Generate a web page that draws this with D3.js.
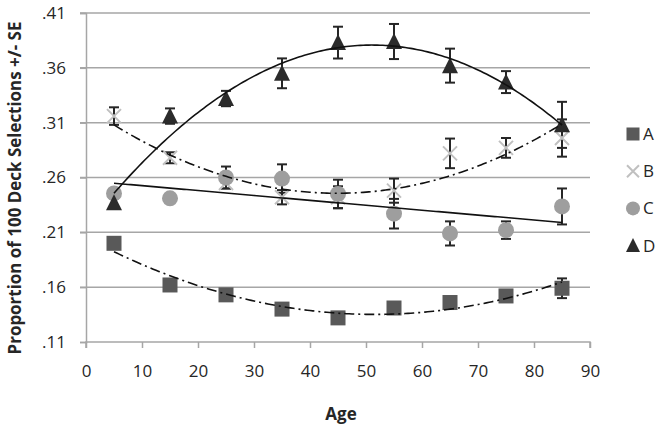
<!DOCTYPE html>
<html>
<head>
<meta charset="utf-8">
<script src="https://cdn.jsdelivr.net/npm/d3@7"></script>
<style>
  html, body { margin: 0; padding: 0; background: #fff; }
  svg { display: block; font-family: "Open Sans", "Liberation Sans", sans-serif; }
</style>
</head>
<body>
<svg id="chart" width="661" height="430"></svg>
<script>
// ---------------- data ----------------
const ages = [5, 15, 25, 35, 45, 55, 65, 75, 85];
const seriesNames = ["A", "B", "C", "D"];
const valuesA = [0.200, 0.162, 0.153, 0.140, 0.132, 0.141, 0.146, 0.152, 0.159];
const errA    = [0.004, 0.004, 0.004, 0.004, 0.004, 0.004, 0.004, 0.004, 0.009];
const valuesB = [0.316, 0.278, 0.255, 0.242, 0.242, 0.248, 0.282, 0.287, 0.296];
const errB    = [0.008, 0.005, 0.005, 0.0065, 0.010, 0.011, 0.0135, 0.009, 0.017];
const valuesC = [0.2455, 0.241, 0.260, 0.259, 0.245, 0.227, 0.209, 0.212, 0.2336];
const errC    = [0.004, 0.004, 0.010, 0.013, 0.013, 0.0135, 0.011, 0.008, 0.0164];
const valuesD = [0.237, 0.316, 0.332, 0.355, 0.383, 0.384, 0.362, 0.347, 0.308];
const errD    = [0.004, 0.007, 0.007, 0.0136, 0.0145, 0.016, 0.0155, 0.010, 0.021];
const trendDegree = [2, 2, 1, 2];
const xTicks = [0, 10, 20, 30, 40, 50, 60, 70, 80, 90];
const yTicks = [0.11, 0.16, 0.21, 0.26, 0.31, 0.36, 0.41];
const yTickLabels = [".11", ".16", ".21", ".26", ".31", ".36", ".41"];
const xTitle = "Age";
const yTitle = "Proportion of 100 Deck Selections +/- SE";

// ---------------- layout ----------------
const svg = d3.select("#chart");
const x = d3.scaleLinear().domain([0, 90]).range([86, 590]);
const y = d3.scaleLinear().domain([0.11, 0.41]).range([342, 13]);
const gridColor = "#a6a6a6";
const textColor = "#262626";

const series = [
  { name: "A", vals: valuesA, err: errA, shape: "square",   fill: "#595959" },
  { name: "B", vals: valuesB, err: errB, shape: "x",        fill: "#c0c0c0" },
  { name: "C", vals: valuesC, err: errC, shape: "circle",   fill: "#9e9e9e" },
  { name: "D", vals: valuesD, err: errD, shape: "triangle", fill: "#2b2b2b" }
];

// gridlines
svg.append("g").selectAll("line").data(yTicks.slice(1)).join("line")
  .attr("x1", 80).attr("x2", 590)
  .attr("y1", d => y(d)).attr("y2", d => y(d))
  .attr("stroke", gridColor).attr("stroke-width", 1.5);

// y axis
const yAxis = d3.axisLeft(y).tickValues(yTicks)
  .tickFormat((d, i) => yTickLabels[i]).tickSize(6).tickPadding(14);
const gy = svg.append("g").attr("transform", "translate(86,0)").call(yAxis);
gy.select(".domain").attr("stroke", gridColor).attr("stroke-width", 1.5);
gy.selectAll(".tick line").attr("stroke", gridColor).attr("stroke-width", 1.5);
gy.selectAll(".tick text").attr("fill", textColor).attr("font-size", 17)
  .attr("font-family", "'Open Sans', sans-serif");

// x axis
const xAxis = d3.axisBottom(x).tickValues(xTicks).tickSize(6).tickPadding(17)
  .tickFormat(d3.format("d"));
const gx = svg.append("g").attr("transform", "translate(0,342)").call(xAxis);
gx.select(".domain").attr("stroke", gridColor).attr("stroke-width", 1.5)
  .attr("d", `M${x(0)},6V0H${x(90)}V6`);
gx.selectAll(".tick line").attr("stroke", gridColor).attr("stroke-width", 1.5);
gx.selectAll(".tick text").attr("fill", textColor).attr("font-size", 17)
  .attr("font-family", "'Open Sans', sans-serif");

// axis titles
svg.append("text").attr("x", 341).attr("y", 420).attr("text-anchor", "middle")
  .attr("font-weight", "bold").attr("font-size", 17).attr("fill", textColor).text(xTitle);
const yt = svg.append("text").attr("transform", "translate(21,188) rotate(-90)")
  .attr("text-anchor", "middle").attr("font-weight", "bold").attr("font-size", 16)
  .attr("fill", textColor).text(yTitle);
const tl = yt.node().getComputedTextLength();
yt.attr("font-size", 16 * 333 / tl);

// marker drawing
function drawMarker(g, shape, fill, cx, cy, s) {
  if (shape === "square") {
    g.append("rect").attr("x", cx - s / 2).attr("y", cy - s / 2)
      .attr("width", s).attr("height", s).attr("fill", fill);
  } else if (shape === "circle") {
    g.append("circle").attr("cx", cx).attr("cy", cy).attr("r", s / 2 + 0.5).attr("fill", fill);
  } else if (shape === "triangle") {
    const h = s;
    g.append("path").attr("d", `M${cx},${cy - h / 2 - 1}L${cx + s / 2 + 0.5},${cy + h / 2}L${cx - s / 2 - 0.5},${cy + h / 2}Z`)
      .attr("fill", fill);
  } else if (shape === "x") {
    const r = s / 2 - 0.5;
    g.append("path").attr("d", `M${cx - r},${cy - r}L${cx + r},${cy + r}M${cx - r},${cy + r}L${cx + r},${cy - r}`)
      .attr("stroke", fill).attr("stroke-width", 2).attr("fill", "none");
  }
}

// error bars (under markers)
const gErr = svg.append("g");
series.forEach(s => {
  ages.forEach((a, i) => {
    const cx = x(a), y1 = y(s.vals[i] + s.err[i]), y2 = y(s.vals[i] - s.err[i]);
    gErr.append("line").attr("x1", cx).attr("x2", cx).attr("y1", y1).attr("y2", y2)
      .attr("stroke", "#262626").attr("stroke-width", 2);
    [y1, y2].forEach(yy => gErr.append("line").attr("x1", cx - 5).attr("x2", cx + 5)
      .attr("y1", yy).attr("y2", yy).attr("stroke", "#262626").attr("stroke-width", 2));
  });
});

// markers
const gMark = svg.append("g");
series.forEach(s => {
  ages.forEach((a, i) => drawMarker(gMark, s.shape, s.fill, x(a), y(s.vals[i]), 15));
});

// least-squares polynomial trendlines
function polyfit(xs, ys, deg) {
  const n = deg + 1;
  const M = Array.from({ length: n }, () => new Array(n + 1).fill(0));
  for (let r = 0; r < n; r++) {
    for (let c = 0; c < n; c++) M[r][c] = d3.sum(xs, xv => Math.pow(xv, r + c));
    M[r][n] = d3.sum(xs.map((xv, k) => Math.pow(xv, r) * ys[k]));
  }
  for (let i = 0; i < n; i++) {
    let p = i;
    for (let k = i + 1; k < n; k++) if (Math.abs(M[k][i]) > Math.abs(M[p][i])) p = k;
    [M[i], M[p]] = [M[p], M[i]];
    for (let k = 0; k < n; k++) {
      if (k === i) continue;
      const f = M[k][i] / M[i][i];
      for (let c = i; c <= n; c++) M[k][c] -= f * M[i][c];
    }
  }
  return M.map((row, i) => row[n] / row[i]);
}
const gTrend = svg.append("g");
const line = d3.line().x(d => x(d[0])).y(d => y(d[1])).curve(d3.curveLinear);
series.forEach((s, si) => {
  const coef = polyfit(ages, s.vals, trendDegree[si]);
  const pts = d3.range(ages[0], ages[ages.length - 1] + 0.01, 0.5)
    .map(a => [a, coef.reduce((acc, c, k) => acc + c * Math.pow(a, k), 0)]);
  gTrend.append("path").attr("d", line(pts)).attr("fill", "none")
    .attr("stroke", "#111").attr("stroke-width", 1.6)
    .attr("stroke-dasharray", trendDegree[si] === 2 && si !== 3 ? "10,4,2,4" : null);
});

// legend
const gLeg = svg.append("g");
series.forEach((s, i) => {
  const ly = 134 + i * 37.2;
  drawMarker(gLeg, s.shape, s.fill, 633, ly, 13);
  gLeg.append("text").attr("x", 643).attr("y", ly + 6).attr("font-size", 17)
    .attr("fill", textColor).text(seriesNames[i]);
});
</script>
</body>
</html>
